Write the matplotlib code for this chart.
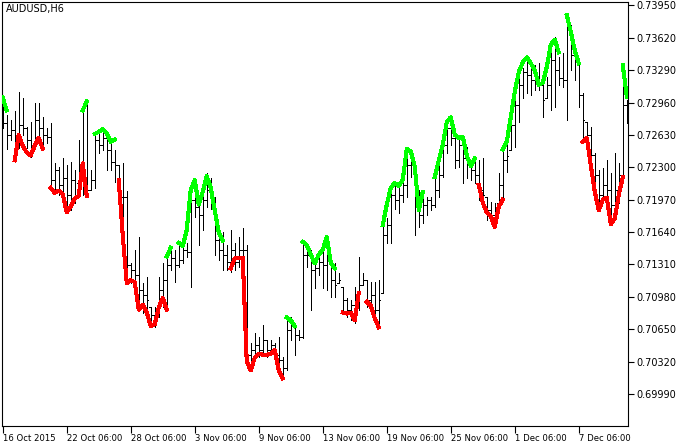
import matplotlib
matplotlib.use('Agg')
import matplotlib.pyplot as plt
from matplotlib.collections import LineCollection
import numpy as np

# AUDUSD H6 bars (prices)
opens = [
    0.7290, 0.7275, 0.7263, 0.7268, 0.7258, 0.7273, 0.7270, 0.7258, 0.7253, 0.7278,
    0.7270, 0.7263, 0.7261, 0.7217, 0.7227, 0.7212, 0.7219, 0.7202, 0.7217, 0.7214,
    0.7232, 0.7217, 0.7207, 0.7217, 0.7258, 0.7253, 0.7260, 0.7248, 0.7235, 0.7232,
    0.7200, 0.7200, 0.7130, 0.7125, 0.7120, 0.7105, 0.7100, 0.7088, 0.7079, 0.7079,
    0.7105, 0.7115, 0.7130, 0.7138, 0.7130, 0.7136, 0.7146, 0.7144, 0.7197, 0.7190,
    0.7181, 0.7197, 0.7207, 0.7197, 0.7156, 0.7146, 0.7141, 0.7133, 0.7146, 0.7133,
    0.7146, 0.7146, 0.7039, 0.7044, 0.7049, 0.7044, 0.7054, 0.7044, 0.7049, 0.7039,
    0.7034, 0.7025, 0.7064, 0.7069, 0.7059, 0.7057, 0.7141, 0.7141, 0.7125, 0.7127,
    0.7133, 0.7130, 0.7136, 0.7115, 0.7112, 0.7108, 0.7095, 0.7085, 0.7090, 0.7095,
    0.7110, 0.7115, 0.7095, 0.7100, 0.7085, 0.7102, 0.7161, 0.7171, 0.7202, 0.7197,
    0.7202, 0.7212, 0.7232, 0.7232, 0.7192, 0.7181, 0.7192, 0.7197, 0.7192, 0.7207,
    0.7222, 0.7253, 0.7270, 0.7260, 0.7237, 0.7253, 0.7239, 0.7232, 0.7227, 0.7222,
    0.7207, 0.7200, 0.7186, 0.7181, 0.7194, 0.7212, 0.7237, 0.7248, 0.7273, 0.7293,
    0.7314, 0.7327, 0.7324, 0.7319, 0.7321, 0.7314, 0.7301, 0.7314, 0.7339, 0.7329,
    0.7321, 0.7319, 0.7370, 0.7344, 0.7336, 0.7304, 0.7276, 0.7263, 0.7243, 0.7222,
    0.7202, 0.7212, 0.7207, 0.7192, 0.7207, 0.7222, 0.7293]
highs = [
    0.7302, 0.7283, 0.7278, 0.7287, 0.7307, 0.7301, 0.7271, 0.7276, 0.7296, 0.7296,
    0.7281, 0.7270, 0.7275, 0.7234, 0.7230, 0.7239, 0.7232, 0.7235, 0.7227, 0.7258,
    0.7288, 0.7295, 0.7227, 0.7264, 0.7266, 0.7268, 0.7266, 0.7258, 0.7248, 0.7232,
    0.7234, 0.7206, 0.7132, 0.7146, 0.7159, 0.7112, 0.7118, 0.7088, 0.7088, 0.7118,
    0.7132, 0.7146, 0.7149, 0.7146, 0.7154, 0.7151, 0.7153, 0.7207, 0.7217, 0.7197,
    0.7207, 0.7224, 0.7219, 0.7200, 0.7164, 0.7164, 0.7151, 0.7166, 0.7153, 0.7159,
    0.7168, 0.7151, 0.7051, 0.7061, 0.7057, 0.7069, 0.7054, 0.7054, 0.7051, 0.7057,
    0.7037, 0.7077, 0.7077, 0.7071, 0.7064, 0.7154, 0.7153, 0.7146, 0.7136, 0.7143,
    0.7156, 0.7159, 0.7139, 0.7132, 0.7122, 0.7108, 0.7097, 0.7095, 0.7108, 0.7139,
    0.7122, 0.7115, 0.7113, 0.7113, 0.7115, 0.7171, 0.7178, 0.7209, 0.7212, 0.7209,
    0.7222, 0.7250, 0.7248, 0.7232, 0.7207, 0.7207, 0.7200, 0.7200, 0.7220, 0.7234,
    0.7260, 0.7276, 0.7281, 0.7263, 0.7263, 0.7261, 0.7251, 0.7237, 0.7237, 0.7237,
    0.7239, 0.7200, 0.7195, 0.7194, 0.7224, 0.7246, 0.7253, 0.7283, 0.7306, 0.7324,
    0.7331, 0.7339, 0.7339, 0.7334, 0.7336, 0.7317, 0.7322, 0.7347, 0.7363, 0.7342,
    0.7346, 0.7385, 0.7375, 0.7349, 0.7336, 0.7306, 0.7276, 0.7271, 0.7245, 0.7227,
    0.7229, 0.7237, 0.7224, 0.7245, 0.7234, 0.7334, 0.7299]
lows = [
    0.7270, 0.7249, 0.7258, 0.7237, 0.7250, 0.7263, 0.7250, 0.7240, 0.7250, 0.7256,
    0.7248, 0.7255, 0.7210, 0.7207, 0.7202, 0.7194, 0.7183, 0.7186, 0.7194, 0.7214,
    0.7202, 0.7200, 0.7207, 0.7209, 0.7245, 0.7248, 0.7227, 0.7227, 0.7215, 0.7186,
    0.7151, 0.7125, 0.7112, 0.7112, 0.7088, 0.7082, 0.7082, 0.7067, 0.7067, 0.7077,
    0.7088, 0.7088, 0.7125, 0.7113, 0.7128, 0.7132, 0.7139, 0.7108, 0.7179, 0.7151,
    0.7166, 0.7190, 0.7188, 0.7141, 0.7136, 0.7125, 0.7125, 0.7123, 0.7125, 0.7128,
    0.7138, 0.7029, 0.7023, 0.7034, 0.7037, 0.7041, 0.7037, 0.7041, 0.7034, 0.7027,
    0.7016, 0.7023, 0.7054, 0.7039, 0.7054, 0.7056, 0.7128, 0.7085, 0.7107, 0.7120,
    0.7107, 0.7105, 0.7098, 0.7098, 0.7112, 0.7082, 0.7077, 0.7074, 0.7071, 0.7085,
    0.7110, 0.7088, 0.7085, 0.7072, 0.7067, 0.7102, 0.7153, 0.7153, 0.7188, 0.7183,
    0.7195, 0.7200, 0.7220, 0.7161, 0.7169, 0.7173, 0.7181, 0.7186, 0.7190, 0.7200,
    0.7220, 0.7245, 0.7253, 0.7229, 0.7230, 0.7214, 0.7219, 0.7217, 0.7214, 0.7197,
    0.7199, 0.7176, 0.7173, 0.7169, 0.7194, 0.7197, 0.7225, 0.7248, 0.7251, 0.7276,
    0.7301, 0.7306, 0.7304, 0.7309, 0.7309, 0.7281, 0.7301, 0.7288, 0.7291, 0.7314,
    0.7312, 0.7278, 0.7329, 0.7319, 0.7291, 0.7255, 0.7256, 0.7230, 0.7210, 0.7186,
    0.7200, 0.7200, 0.7171, 0.7179, 0.7194, 0.7217, 0.7275]
closes = [
    0.7275, 0.7263, 0.7268, 0.7258, 0.7273, 0.7270, 0.7258, 0.7253, 0.7278, 0.7270,
    0.7263, 0.7261, 0.7217, 0.7227, 0.7212, 0.7219, 0.7202, 0.7217, 0.7202, 0.7232,
    0.7217, 0.7207, 0.7217, 0.7258, 0.7253, 0.7260, 0.7248, 0.7235, 0.7232, 0.7200,
    0.7200, 0.7130, 0.7125, 0.7120, 0.7105, 0.7100, 0.7095, 0.7079, 0.7079, 0.7105,
    0.7115, 0.7130, 0.7138, 0.7130, 0.7136, 0.7146, 0.7144, 0.7197, 0.7190, 0.7181,
    0.7197, 0.7207, 0.7197, 0.7156, 0.7146, 0.7141, 0.7133, 0.7146, 0.7133, 0.7146,
    0.7146, 0.7039, 0.7044, 0.7049, 0.7044, 0.7054, 0.7044, 0.7049, 0.7039, 0.7034,
    0.7025, 0.7064, 0.7069, 0.7059, 0.7057, 0.7141, 0.7141, 0.7125, 0.7127, 0.7133,
    0.7130, 0.7136, 0.7115, 0.7110, 0.7115, 0.7095, 0.7085, 0.7090, 0.7095, 0.7110,
    0.7115, 0.7095, 0.7100, 0.7085, 0.7095, 0.7161, 0.7171, 0.7202, 0.7197, 0.7202,
    0.7212, 0.7232, 0.7232, 0.7192, 0.7181, 0.7192, 0.7197, 0.7192, 0.7207, 0.7222,
    0.7253, 0.7270, 0.7260, 0.7237, 0.7253, 0.7239, 0.7232, 0.7227, 0.7222, 0.7207,
    0.7202, 0.7186, 0.7181, 0.7186, 0.7212, 0.7237, 0.7242, 0.7273, 0.7293, 0.7314,
    0.7327, 0.7324, 0.7319, 0.7321, 0.7314, 0.7299, 0.7314, 0.7339, 0.7329, 0.7321,
    0.7319, 0.7370, 0.7344, 0.7339, 0.7304, 0.7278, 0.7263, 0.7243, 0.7222, 0.7202,
    0.7212, 0.7207, 0.7192, 0.7207, 0.7222, 0.7293, 0.7288]

# indicator buffers: (first bar, values)
up_segments = [
    (0, [0.7301, 0.7288]),
    (20, [0.7288, 0.7297]),
    (23, [0.7264, 0.7266, 0.7269, 0.7265, 0.7256, 0.7258]),
    (41, [0.7139, 0.7148]),
    (44, [0.7153, 0.7150, 0.7166, 0.7207, 0.7217, 0.7192, 0.7205, 0.7221, 0.7209,
          0.7186, 0.7164, 0.7155]),
    (71, [0.7077, 0.7074, 0.7068]),
    (75, [0.7154, 0.7151, 0.7141, 0.7132, 0.7141, 0.7146, 0.7159, 0.7133, 0.7127]),
    (95, [0.7171, 0.7192, 0.7209, 0.7214, 0.7211, 0.7217, 0.7249, 0.7246, 0.7231,
          0.7186, 0.7205]),
    (108, [0.7220, 0.7237, 0.7253, 0.7276, 0.7281, 0.7263, 0.7260, 0.7261, 0.7242,
           0.7231, 0.7239]),
    (125, [0.7248, 0.7256, 0.7281, 0.7307, 0.7327, 0.7337, 0.7342, 0.7336, 0.7329,
           0.7314, 0.7316, 0.7332, 0.7355, 0.7360, 0.7347]),
    (141, [0.7385, 0.7368, 0.7349, 0.7336]),
    (155, [0.7334, 0.7302]),
]
down_segments = [
    (3, [0.7237, 0.7263, 0.7252, 0.7245, 0.7242, 0.7252, 0.7260, 0.7249]),
    (12, [0.7209, 0.7204, 0.7206, 0.7203, 0.7184, 0.7190, 0.7198, 0.7201, 0.7234, 0.7201]),
    (29, [0.7217, 0.7161, 0.7112, 0.7115, 0.7113, 0.7085, 0.7090, 0.7082, 0.7068,
          0.7070, 0.7087, 0.7097, 0.7085]),
    (57, [0.7127, 0.7137, 0.7138, 0.7138, 0.7032, 0.7023, 0.7036, 0.7040, 0.7039,
          0.7039, 0.7040, 0.7044, 0.7023, 0.7015]),
    (85, [0.7082, 0.7081, 0.7082, 0.7074, 0.7102]),
    (91, [0.7093, 0.7089, 0.7076, 0.7067]),
    (119, [0.7212, 0.7194, 0.7184, 0.7180, 0.7169, 0.7190, 0.7197]),
    (145, [0.7256, 0.7260, 0.7232, 0.7205, 0.7186, 0.7197, 0.7199, 0.7172, 0.7178,
           0.7202, 0.7220]),
]

y_ticks = [0.69990, 0.70320, 0.70650, 0.70980, 0.71310, 0.71640,
           0.71970, 0.72300, 0.72630, 0.72960, 0.73290, 0.73620, 0.73950]
x_tick_bars = [0, 16, 32, 48, 64, 80, 96, 112, 128, 144]
x_tick_labels = ['16 Oct 2015', '22 Oct 06:00', '28 Oct 06:00', '3 Nov 06:00',
                 '9 Nov 06:00', '13 Nov 06:00', '19 Nov 06:00', '25 Nov 06:00',
                 '1 Dec 06:00', '7 Dec 06:00']

W, H = 680, 446
fig = plt.figure(figsize=(W / 100, H / 100), dpi=100)
ax = fig.add_axes([2 / W, 20 / H, 626 / W, 424 / H])

# OHLC bars
segs = []
for k in range(len(opens)):
    segs.append([(k, lows[k]), (k, highs[k])])
    segs.append([(k - 0.4, opens[k]), (k, opens[k])])
    segs.append([(k, closes[k]), (k + 0.4, closes[k])])
ax.add_collection(LineCollection(segs, colors='black', linewidths=0.5,
                                 antialiaseds=False, zorder=2))

# colored indicator line
for start, vals in up_segments:
    ax.plot(np.arange(start, start + len(vals)), vals, color='#00ff00',
            lw=2.2, antialiased=False, zorder=3)
for start, vals in down_segments:
    ax.plot(np.arange(start, start + len(vals)), vals, color='#ff0000',
            lw=2.2, antialiased=False, zorder=3)

ax.set_xlim(-0.175, 156.3)
ax.set_ylim(0.69664, 0.73984)

ax.yaxis.tick_right()
ax.set_yticks(y_ticks)
ax.set_yticklabels(['%.5f' % v for v in y_ticks])
ax.set_xticks(x_tick_bars)
ax.set_xticklabels(x_tick_labels)
for lab in ax.get_xticklabels():
    lab.set_horizontalalignment('left')
ax.tick_params(axis='y', direction='out', length=4, width=0.8, labelsize=7, pad=2)
ax.tick_params(axis='x', direction='out', length=5, width=0.8, labelsize=6.1, pad=1)
for s in ax.spines.values():
    s.set_linewidth(0.8)
    s.set_color('black')

fig.text(6 / W, 1 - 9 / H, 'AUDUSD,H6', fontsize=7, va='center', ha='left')

fig.savefig('out.png', dpi=100)
